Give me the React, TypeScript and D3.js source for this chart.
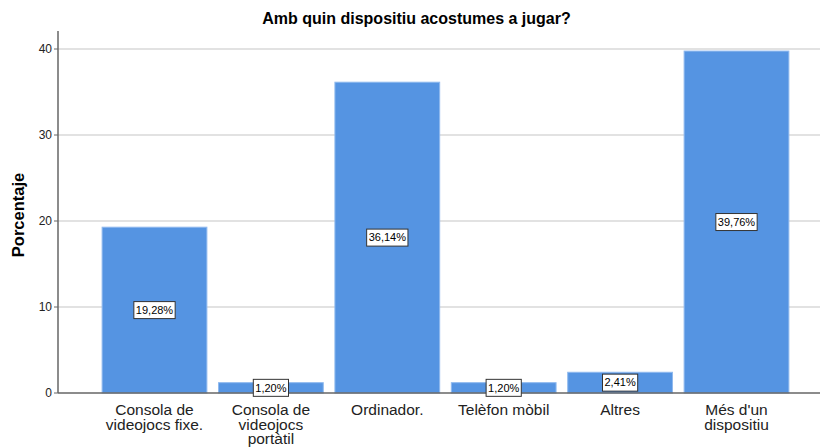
import React from "react";
import * as d3 from "d3";

const categories: string[][] = [
  ["Consola de", "videojocs fixe."],
  ["Consola de", "videojocs", "portàtil"],
  ["Ordinador."],
  ["Telèfon mòbil"],
  ["Altres"],
  ["Més d'un", "dispositiu"],
];
const values = [19.28, 1.2, 36.14, 1.2, 2.41, 39.76];
const valueLabels = ["19,28%", "1,20%", "36,14%", "1,20%", "2,41%", "39,76%"];
const yTicks = [0, 10, 20, 30, 40];
const title = "Amb quin dispositiu acostumes a jugar?";
const yTitle = "Porcentaje";

const W = 821;
const H = 448;
const axisX = 58;
const plotRight = 820;
const plotTop = 31;
const baseY = 393;

function labelWidth(s: string, fs: number) {
  let em = 0;
  for (const ch of s) {
    if (ch === ",") em += 0.278;
    else if (ch === "%") em += 0.889;
    else em += 0.556;
  }
  return em * fs;
}

export default function App() {
  const ids = categories.map((_, i) => String(i));
  const x = d3
    .scaleBand<string>()
    .domain(ids)
    .range([96.3, 794.7])
    .paddingInner(0.1)
    .paddingOuter(0.05);
  const y = d3.scaleLinear().domain([0, 40]).range([baseY, 49]);
  const font = "Arial, 'Liberation Sans', sans-serif";
  const labelFs = 11;

  return (
    <svg
      width={W}
      height={H}
      style={{ position: "absolute", left: 0, top: 0, background: "#fff" }}
      fontFamily={font}
    >
      <text x={416.5} y={24} textAnchor="middle" fontSize={16} fontWeight="bold" fill="#000">
        {title}
      </text>
      {yTicks.filter((t) => t > 0).map((t) => (
        <line key={"g" + t} x1={axisX} x2={plotRight} y1={y(t)} y2={y(t)} stroke="#d9d9d9" strokeWidth={1.5} />
      ))}
      {yTicks.map((t) => (
        <g key={"t" + t}>
          <line x1={axisX - 4} x2={axisX} y1={y(t)} y2={y(t)} stroke="#666" />
          <text x={axisX - 6} y={y(t)} dy="0.35em" textAnchor="end" fontSize={12} fill="#222">
            {t}
          </text>
        </g>
      ))}
      <text
        transform={`translate(24,${(plotTop + baseY) / 2 + 3}) rotate(-90)`}
        textAnchor="middle"
        fontSize={16.5}
        fontWeight="bold"
        fill="#000"
      >
        {yTitle}
      </text>
      {values.map((v, i) => (
        <rect
          key={"b" + i}
          x={x(ids[i])!}
          y={y(v)}
          width={x.bandwidth()}
          height={baseY - y(v)}
          fill="#5594e2"
          stroke="#8fb9ee"
          strokeWidth={1}
        />
      ))}
      <line x1={axisX} x2={axisX} y1={plotTop} y2={baseY} stroke="#666" strokeWidth={1.5} />
      <line x1={axisX} x2={plotRight} y1={baseY} y2={baseY} stroke="#666" strokeWidth={1.5} />
      {values.map((v, i) => {
        const cx = x(ids[i])! + x.bandwidth() / 2;
        const cy = y(v / 2);
        const tw = labelWidth(valueLabels[i], labelFs) + 4;
        return (
          <g key={"l" + i}>
            <rect x={cx - tw / 2} y={cy - 8.5} width={tw} height={17} fill="#fff" stroke="#333" strokeWidth={1} />
            <text x={cx} y={cy} dy="0.35em" textAnchor="middle" fontSize={labelFs} fill="#000">
              {valueLabels[i]}
            </text>
          </g>
        );
      })}
      {categories.map((lines, i) => {
        const cx = x(ids[i])! + x.bandwidth() / 2;
        return (
          <text key={"c" + i} textAnchor="middle" fontSize={15.5} fill="#222">
            {lines.map((ln, j) => (
              <tspan key={j} x={cx} y={415 + j * 14.5}>
                {ln}
              </tspan>
            ))}
          </text>
        );
      })}
    </svg>
  );
}
